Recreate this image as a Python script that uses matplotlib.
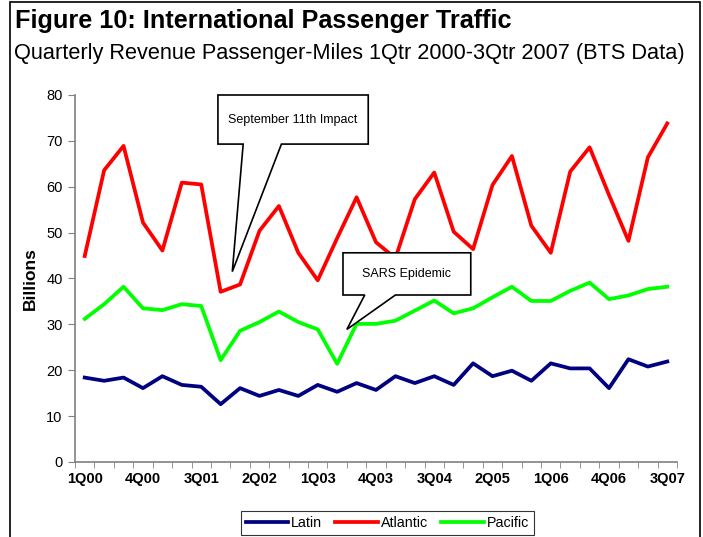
import matplotlib
matplotlib.use("Agg")
import matplotlib.pyplot as plt
from matplotlib.patches import Polygon, Rectangle
import numpy as np

plt.rcParams['font.family'] = ['Liberation Sans', 'DejaVu Sans']

# quarters 1Q00 .. 3Q07
quarters = [f"{q}Q{y:02d}" for y in range(0, 8) for q in range(1, 5)][:31]
tick_labels = quarters[::3]

latin = [18.4, 17.7, 18.4, 16.1, 18.7, 16.8, 16.4, 12.6, 16.1, 14.4, 15.7,
         14.4, 16.8, 15.3, 17.2, 15.7, 18.7, 17.2, 18.7, 16.8, 21.5, 18.7,
         19.9, 17.7, 21.5, 20.4, 20.4, 16.1, 22.4, 20.8, 21.9]
atlantic = [44.9, 63.6, 68.9, 52.2, 46.1, 60.9, 60.5, 37.1, 38.7, 50.4, 55.8,
            45.6, 39.6, 48.8, 57.7, 47.9, 44.4, 57.3, 63.1, 50.2, 46.4, 60.4,
            66.7, 51.5, 45.6, 63.3, 68.6, 58.2, 48.2, 66.4, 73.8]
pacific = [31.2, 34.4, 38.2, 33.5, 33.1, 34.4, 34.0, 22.2, 28.6, 30.5, 32.8,
           30.5, 28.9, 21.4, 30.1, 30.1, 30.8, 33.0, 35.2, 32.4, 33.5, 35.9,
           38.2, 35.1, 35.1, 37.3, 39.1, 35.5, 36.3, 37.7, 38.2]

fig = plt.figure(figsize=(7.03, 5.37), dpi=100)
ax = fig.add_axes([0.1067, 0.1397, 0.8563, 0.6834])

x = np.arange(len(quarters))
ax.plot(x, latin, color='#000080', lw=2.7, label='Latin', zorder=3)
ax.plot(x, atlantic, color='#FF0000', lw=2.7, label='Atlantic', zorder=3)
ax.plot(x, pacific, color='#00FF00', lw=2.7, label='Pacific', zorder=3)

ax.set_xlim(-0.5, len(quarters) - 0.5)
ax.set_ylim(0, 80)
ax.set_yticks(range(0, 81, 10))
ax.set_xticks(x[::3])
ax.set_xticklabels(tick_labels, fontweight='bold', fontsize=10.5)
ax.set_xticks(np.arange(-0.5, len(quarters)), minor=True)
ax.tick_params(axis='x', which='major', length=0, pad=7)
ax.tick_params(axis='x', which='minor', length=4, color='#808080', direction='out')
ax.tick_params(axis='y', length=5, color='#808080', labelsize=10.5, pad=4)
for s in ['top', 'right']:
    ax.spines[s].set_visible(False)
for s in ['left', 'bottom']:
    ax.spines[s].set_color('#808080')
    ax.spines[s].set_linewidth(1.2)
ax.set_ylabel('Billions', fontweight='bold', fontsize=12.5, labelpad=6)

# callouts (box with pointer, data coords)
def callout(box, base, tip, text):
    x0, x1, y0, y1 = box
    pts = [(x0, y1), (x1, y1), (x1, y0), (base[1], y0), tip, (base[0], y0), (x0, y0)]
    ax.add_patch(Polygon(pts, closed=True, facecolor='white', edgecolor='black',
                         lw=1.2, zorder=5, clip_on=False))
    ax.text((x0 + x1) / 2, (y0 + y1) / 2, text, ha='center', va='center',
            fontsize=9, zorder=6)

callout((6.86, 14.6, 69.3, 80.0), (8.16, 10.13), (7.6, 41.5), 'September 11th Impact')
callout((13.3, 19.88, 36.4, 45.6), (14.42, 16.0), (13.5, 28.9), 'SARS Epidemic')

fig.text(0.022, 0.96, 'Figure 10: International Passenger Traffic',
         fontsize=18.2, fontweight='bold', va='center')
fig.text(0.02, 0.9, 'Quarterly Revenue Passenger-Miles 1Qtr 2000-3Qtr 2007 (BTS Data)',
         fontsize=15.7, va='center')

leg = fig.legend(loc='center', bbox_to_anchor=(0.551, 0.0265), ncol=3, fontsize=10.3,
                 frameon=True, fancybox=False, edgecolor='black', handlelength=3.0,
                 handletextpad=0.2, columnspacing=0.9, borderpad=0.35)
leg.get_frame().set_linewidth(0.8)

fig.add_artist(Rectangle((10 / 703, -0.05), 690 / 703, 1.05 - 2 / 537,
                         transform=fig.transFigure, fill=False, edgecolor='black', lw=1.2))

fig.savefig('out.png', dpi=100)
